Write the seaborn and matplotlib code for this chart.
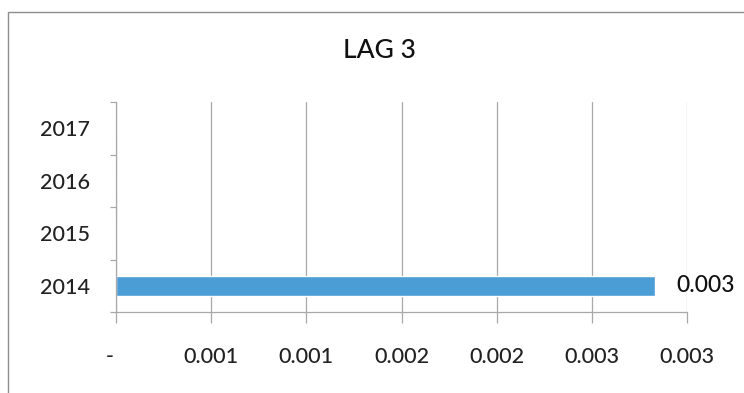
import matplotlib
matplotlib.use("Agg")
import matplotlib.pyplot as plt
import matplotlib.transforms as mtransforms
import seaborn as sns
import pandas as pd
from matplotlib.patches import Rectangle

years = ["2017", "2016", "2015", "2014"]
values = [0.0, 0.0, 0.0, 0.00283]
value_labels = ["", "", "", "0.003"]
x_ticks = [0.0, 0.0005, 0.001, 0.0015, 0.002, 0.0025, 0.003]
x_tick_labels = ["-", "0.001", "0.001", "0.002", "0.002", "0.003", "0.003"]
title = "LAG 3"

sns.set_theme(style="white")
plt.rcParams["font.family"] = ["Lato", "DejaVu Sans"]
plt.rcParams["font.weight"] = "medium"

df = pd.DataFrame({"year": years, "value": values})

fig = plt.figure(figsize=(7.44, 3.93), dpi=100)
fig.patch.set_facecolor("white")
# chart frame
fig.patches.append(Rectangle((8 / 744, -0.1), 1.2, 1 - 12 / 393 + 0.1,
                             transform=fig.transFigure, fill=False,
                             edgecolor="#8e8e8e", linewidth=1.0))

ax = fig.add_axes([116 / 744, 1 - 312 / 393, 571 / 744, 210 / 393])
sns.barplot(data=df, x="value", y="year", order=years, orient="h",
            color="#4b9dd6", width=0.38, saturation=1, ax=ax)

ax.set_xlim(0, 0.003)
ax.set_ylim(3.5, -0.5)
ax.set_xticks(x_ticks)
ax.set_xticklabels(x_tick_labels)
ax.set_xlabel("")
ax.set_ylabel("")
ax.tick_params(axis="x", length=8, color="#a8a8a8", width=0.9, pad=17,
               labelsize=15.5, labelcolor="#222222", direction="out",
               bottom=True)
ax.set_yticks(range(len(years)))
ax.tick_params(axis="y", length=0, labelsize=15.5, labelcolor="#222222", pad=19)
ax.set_yticks([-0.5, 0.5, 1.5, 2.5, 3.5], minor=True)
ax.tick_params(axis="y", which="minor", length=4, color="#a8a8a8", width=0.9,
               direction="out", left=True)
ax.grid(axis="x", color="#a8a8a8", linewidth=0.9)
ax.set_axisbelow(True)
for side in ["top", "right"]:
    ax.spines[side].set_visible(False)
for side in ["left", "bottom"]:
    ax.spines[side].set_color("#a8a8a8")
    ax.spines[side].set_linewidth(0.9)

# accounting-style dash for zero sits slightly left of its tick
dash = ax.get_xticklabels()[0]
dash.set_transform(dash.get_transform() +
                   mtransforms.ScaledTranslation(-0.06, 0, fig.dpi_scale_trans))

for i, (v, lab) in enumerate(zip(values, value_labels)):
    if lab:
        ax.annotate(lab, xy=(v, i), xytext=(16, 0), textcoords="offset points",
                    va="center", ha="left", fontsize=16.5, color="#111111",
                    annotation_clip=False)

fig.text(379 / 744, 1 - 50 / 393, title, ha="center", va="center",
         fontsize=19, color="#111111")

fig.savefig("out.png", dpi=100)
